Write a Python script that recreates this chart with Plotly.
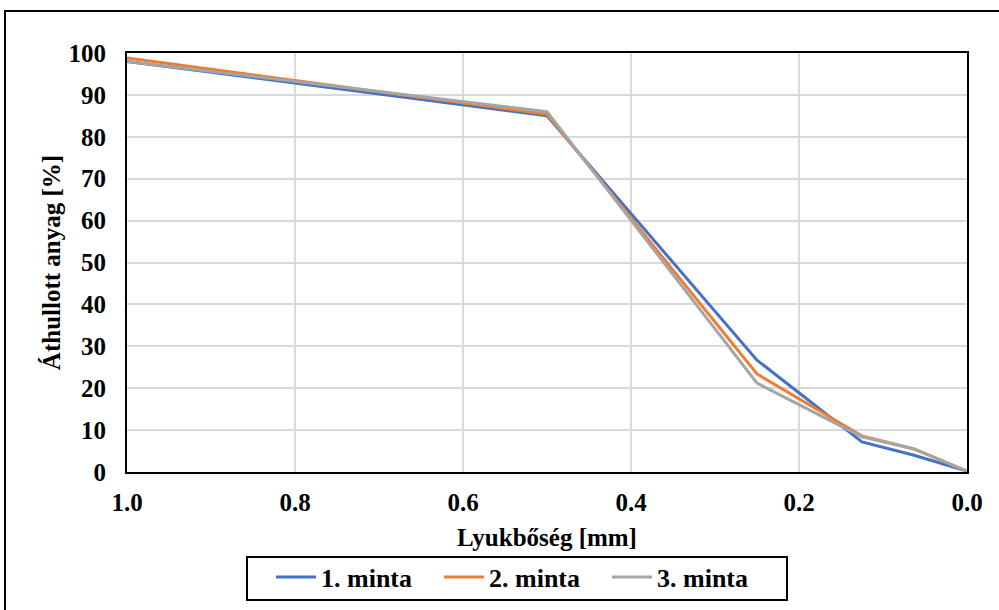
import plotly.graph_objects as go

sieve_mm = [1.0, 0.5, 0.25, 0.125, 0.063, 0.0]
minta1 = [98.0, 85.0, 26.7, 7.2, 4.0, 0.2]
minta2 = [98.8, 85.4, 23.4, 8.6, 5.5, 0.2]
minta3 = [98.0, 86.0, 21.2, 8.4, 5.5, 0.2]
names = ["1. minta", "2. minta", "3. minta"]
colors = ["#4472C4", "#ED7D31", "#A5A5A5"]

FONT = "Liberation Serif, Times New Roman, serif"

fig = go.Figure()
for name, ys, c in zip(names, [minta1, minta2, minta3], colors):
    fig.add_trace(go.Scatter(x=sieve_mm, y=ys, mode="lines", name=name,
                             line=dict(color=c, width=3)))

L, R, T, B = 127, 32, 53, 138
W, H = 999, 610
pw, ph = W - L - R, H - T - B

def px2x(p):
    return (p - L) / pw

def py2y(p):
    return (H - B - p) / ph

# outer chart frame
fig.add_shape(type="rect", xref="paper", yref="paper",
              x0=px2x(5), x1=px2x(1010), y0=py2y(11), y1=py2y(620),
              line=dict(color="black", width=2), layer="below")
# legend frame
fig.add_shape(type="rect", xref="paper", yref="paper",
              x0=px2x(247), x1=px2x(787), y0=py2y(557), y1=py2y(600),
              line=dict(color="black", width=2), layer="below")

TF = dict(family=FONT, size=25, color="black", weight="bold")

fig.update_layout(
    width=W, height=H,
    margin=dict(l=L, r=R, t=T, b=B, autoexpand=False),
    paper_bgcolor="white", plot_bgcolor="white",
    font=dict(family=FONT, size=25, color="black"),
    xaxis=dict(range=[1.0, 0.0], dtick=0.2, tickformat=".1f",
               showgrid=True, gridcolor="#d9d9d9", gridwidth=2,
               showline=True, linecolor="black", linewidth=2, mirror=True,
               ticks="", zeroline=False, ticklabelstandoff=7, automargin=False,
               tickfont=TF,
               title=dict(text="<b>Lyukbőség [mm]</b>", standoff=13,
                          font=dict(family=FONT, size=25, color="black"))),
    yaxis=dict(range=[0, 100], dtick=10,
               showgrid=True, gridcolor="#d9d9d9", gridwidth=2,
               showline=True, linecolor="black", linewidth=2, mirror=True,
               ticks="", zeroline=False, ticklabelstandoff=14, automargin=False,
               tickfont=TF,
               title=dict(text="<b>Áthullott anyag [%]</b>", standoff=1,
                          font=dict(family=FONT, size=25, color="black"))),
    legend=dict(orientation="h", x=px2x(523), xanchor="center",
                y=py2y(577), yanchor="middle",
                borderwidth=0, bgcolor="rgba(0,0,0,0)",
                font=dict(family=FONT, size=26, color="black", weight="bold"),
                itemwidth=40, entrywidth=113, entrywidthmode="pixels"),
)

fig.write_html("out.html")
